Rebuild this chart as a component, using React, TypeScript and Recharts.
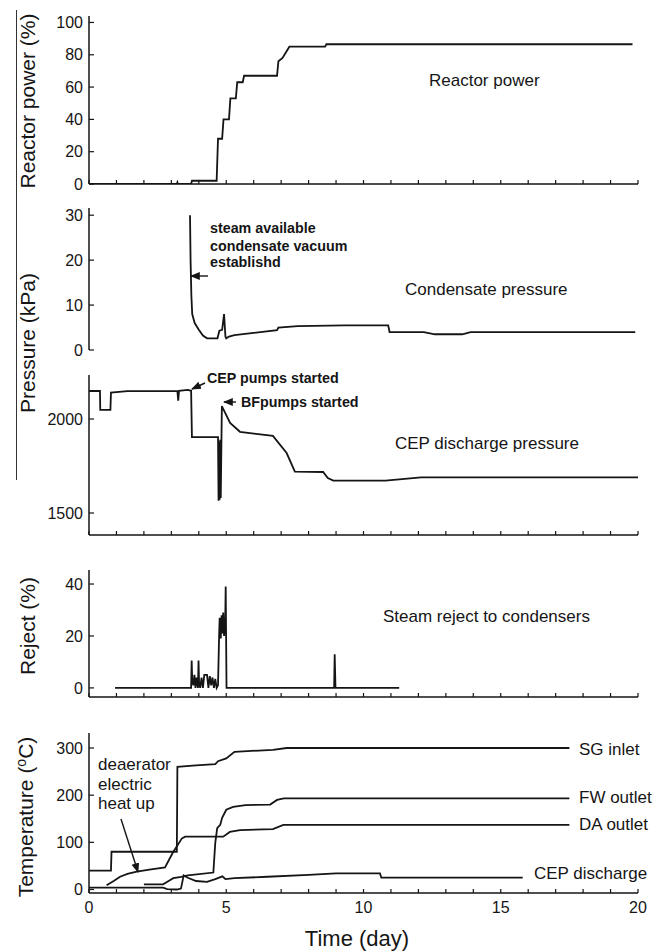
import React from "react";
import { LineChart, Line, XAxis, YAxis } from "recharts";

// [day, value] pairs
const reactorPower = [
  [0, 0], [3.2, 0], [3.22, 1], [3.24, 0], [3.72, 0], [3.75, 2], [4.65, 2], [4.7, 28],
  [4.85, 28], [4.9, 40], [5.1, 40], [5.15, 53], [5.35, 53], [5.4, 63], [5.6, 63],
  [5.65, 67], [6.85, 67], [6.9, 76], [7.05, 78], [7.3, 85], [8.6, 85], [8.65, 86.5], [19.8, 86.5],
];

const condensatePressure = [
  [3.68, 30], [3.7, 20], [3.73, 12], [3.76, 8], [3.85, 6], [4.0, 4.5], [4.15, 3.2], [4.3, 2.6],
  [4.68, 2.6], [4.75, 4.3], [4.85, 4.5], [4.92, 8], [4.97, 3], [5.0, 2.6], [5.1, 3], [5.3, 3.3],
  [6.0, 3.8], [6.85, 4.4], [6.9, 5], [7.6, 5.3], [9.3, 5.5], [10.9, 5.5], [10.95, 4], [12.2, 4],
  [12.6, 3.5], [13.6, 3.5], [13.9, 4], [19.9, 4],
];

const cepPressure = [
  [0, 2149], [0.4, 2149], [0.41, 2048], [0.78, 2048], [0.8, 2140], [1.4, 2148], [3.22, 2148],
  [3.25, 2097], [3.28, 2150], [3.6, 2155], [3.72, 2150], [3.75, 1904], [4.7, 1904], [4.72, 1565],
  [4.74, 1880], [4.76, 1570], [4.78, 1890], [4.8, 1580], [4.84, 2069], [5.14, 1979], [5.5, 1932],
  [6.7, 1910], [7.2, 1819], [7.5, 1720], [8.53, 1718], [8.7, 1686], [8.9, 1672], [10.8, 1672],
  [11.5, 1682], [12.1, 1690], [20, 1690],
];

const steamReject = [
  [0.95, 0], [3.72, 0], [3.74, 10.5], [3.76, 3], [3.8, 1], [3.84, 5], [3.88, 0], [3.92, 4],
  [3.97, 0], [3.99, 10.5], [4.01, 2], [4.05, 0], [4.1, 4], [4.15, 0], [4.2, 5], [4.3, 5],
  [4.35, 0], [4.4, 4.5], [4.45, 1], [4.5, 4], [4.55, 0], [4.6, 3.5], [4.65, 0], [4.7, 1],
  [4.74, 20], [4.76, 27], [4.8, 19], [4.83, 28], [4.86, 21], [4.89, 29], [4.92, 20], [4.96, 24],
  [4.98, 39], [5.01, 0], [8.93, 0], [8.95, 13], [8.98, 0], [11.3, 0],
];

const sgInlet = [
  [0, 40], [0.8, 40], [0.82, 80], [3.2, 80], [3.22, 260], [3.9, 263], [4.6, 266], [4.7, 272],
  [5.0, 278], [5.3, 292], [6.7, 296], [7.2, 300], [17.5, 300],
];

const fwOutlet = [
  [2.0, 11], [2.7, 11], [2.9, 18], [3.07, 24], [3.36, 27], [3.6, 30], [4.53, 36], [4.6, 99],
  [4.67, 130], [4.78, 137], [4.85, 152], [5.0, 169], [5.25, 175], [5.7, 179], [6.6, 180],
  [6.85, 190], [7.1, 193], [17.5, 193],
];

const daOutlet = [
  [0.64, 9], [0.9, 18], [1.13, 27], [1.4, 33], [1.74, 38], [2.2, 42], [2.77, 47], [3.05, 78],
  [3.38, 108], [3.5, 112], [4.89, 112], [5.13, 122], [5.5, 126], [6.7, 128], [7.08, 137], [17.5, 137],
];

const cepTemp = [
  [0, 4], [2.7, 4], [2.85, 1], [3.2, 0], [3.35, 2], [3.45, 30], [3.6, 25], [3.9, 18], [4.3, 16],
  [4.6, 22], [4.86, 28], [4.97, 22], [5.3, 24], [6.5, 27], [8, 31], [9, 34], [10.6, 34],
  [10.65, 25], [15.8, 25],
];

const dayTicks = [0, 1, 2, 3, 4, 5, 6, 7, 8, 9, 10, 11, 12, 13, 14, 15, 16, 17, 18, 19, 20];
const powerTicks = [0, 20, 40, 60, 80, 100];
const condTicks = [0, 10, 20, 30];
const cepTicks = [1500, 2000];
const rejectTicks = [0, 20, 40];
const tempTicks = [0, 100, 200, 300];

const pts = (a: number[][]) => a.map(([x, y]) => ({ x, y }));

const INK = "#151515";
const FONT = "'Liberation Sans', Arial, sans-serif";

function series(d: number[][], key: string) {
  return (
    <Line
      key={key}
      data={pts(d)}
      dataKey="y"
      type="linear"
      dot={false}
      activeDot={false}
      stroke={INK}
      strokeWidth={1.8}
      isAnimationActive={false}
    />
  );
}

interface PanelProps {
  top: number;
  plotH: number;
  domain: [number, number];
  yTicks: number[];
  xMode: "none" | "ticks" | "labels";
  children: React.ReactNode;
}

function Panel({ top, plotH, domain, yTicks, xMode, children }: PanelProps) {
  const mt = 10;
  const xH = xMode === "labels" ? 50 : xMode === "ticks" ? 1 : 0;
  const mb = xMode === "labels" ? 2 : 10;
  const h = mt + plotH + xH + mb;
  const axisStyle = { stroke: INK, strokeWidth: 1.5 };
  return (
    <div style={{ position: "absolute", left: 0, top: top - mt }}>
      <LineChart width={664} height={h} margin={{ top: mt, right: 26, bottom: mb, left: 0 }}>
        <XAxis
          type="number"
          dataKey="x"
          domain={[0, 20]}
          ticks={dayTicks}
          allowDataOverflow
          hide={xMode === "none"}
          height={xH}
          axisLine={axisStyle}
          tickLine={{ stroke: INK, strokeWidth: 1.2 }}
          tickSize={-4}
          tickMargin={13}
          interval={0}
          tick={{ fontSize: 16, fill: INK, fontFamily: FONT }}
          tickFormatter={(v: number) => (xMode === "labels" && v % 5 === 0 ? String(v) : "")}
        />
        <YAxis
          type="number"
          domain={domain}
          ticks={yTicks}
          allowDataOverflow
          width={89}
          axisLine={axisStyle}
          tickLine={{ stroke: INK, strokeWidth: 1.2 }}
          tickSize={-5}
          tickMargin={11}
          interval={0}
          tick={{ fontSize: 16, fill: INK, fontFamily: FONT }}
        />
        {children}
      </LineChart>
    </div>
  );
}

export default function App() {
  const t = { fontFamily: FONT, fill: INK };
  return (
    <div
      style={{
        position: "absolute",
        left: 0,
        top: 0,
        width: 664,
        height: 951,
        background: "#fff",
        fontFamily: FONT,
        overflow: "hidden",
      }}
    >
      <Panel top={16} plotH={168} domain={[0, 104]} yTicks={powerTicks} xMode="ticks">
        {series(reactorPower, "power")}
      </Panel>
      <Panel top={208} plotH={142} domain={[0, 31.6]} yTicks={condTicks} xMode="none">
        {series(condensatePressure, "cond")}
      </Panel>
      <Panel top={375} plotH={160} domain={[1383, 2234]} yTicks={cepTicks} xMode="ticks">
        {series(cepPressure, "cep")}
      </Panel>
      <Panel top={570} plotH={127} domain={[-3.5, 45.4]} yTicks={rejectTicks} xMode="ticks">
        {series(steamReject, "reject")}
      </Panel>
      <Panel top={733} plotH={160} domain={[-7.4, 331.8]} yTicks={tempTicks} xMode="labels">
        {series(sgInlet, "sg")}
        {series(fwOutlet, "fw")}
        {series(daOutlet, "da")}
        {series(cepTemp, "ceptemp")}
      </Panel>

      <svg
        width={664}
        height={951}
        style={{ position: "absolute", left: 0, top: 0, pointerEvents: "none" }}
      >
        <defs>
          <marker id="ah" viewBox="0 0 10 10" refX="9" refY="5" markerWidth="7" markerHeight="7" orient="auto">
            <path d="M0,1 L10,5 L0,9 z" fill={INK} />
          </marker>
        </defs>

        <line x1={16.5} y1={10} x2={16.5} y2={480} stroke="#333" strokeWidth={1} />

        {/* axis titles */}
        <text {...t} fontSize={21} textAnchor="middle" transform="translate(35,101) rotate(-90)">
          Reactor power (%)
        </text>
        <text {...t} fontSize={21} textAnchor="middle" transform="translate(35,343) rotate(-90)">
          Pressure (kPa)
        </text>
        <text {...t} fontSize={21} textAnchor="middle" transform="translate(35,626) rotate(-90)">
          Reject (%)
        </text>
        <text {...t} fontSize={21} textAnchor="middle" transform="translate(33,817) rotate(-90)">
          Temperature (<tspan fontSize={14} dy={-7}>o</tspan>
          <tspan dy={7}>C)</tspan>
        </text>
        <text {...t} fontSize={22} textAnchor="middle" x={357} y={946}>
          Time (day)
        </text>

        {/* panel titles */}
        <text {...t} fontSize={17} x={429} y={86}>Reactor power</text>
        <text {...t} fontSize={17} x={405} y={295}>Condensate pressure</text>
        <text {...t} fontSize={17} x={395} y={449}>CEP discharge pressure</text>
        <text {...t} fontSize={17} x={383} y={622}>Steam reject to condensers</text>

        {/* annotations */}
        <text {...t} fontSize={14.3} fontWeight="bold" x={210} y={233}>steam available</text>
        <text {...t} fontSize={14.3} fontWeight="bold" x={210} y={251}>condensate vacuum</text>
        <text {...t} fontSize={14.3} fontWeight="bold" x={210} y={267}>establishd</text>
        <line x1={208} y1={276} x2={191} y2={276} stroke={INK} strokeWidth={1.4} markerEnd="url(#ah)" />

        <text {...t} fontSize={14.3} fontWeight="bold" x={207} y={383}>CEP pumps started</text>
        <line x1={205} y1={383} x2={192} y2={389} stroke={INK} strokeWidth={1.4} markerEnd="url(#ah)" />
        <text {...t} fontSize={14.3} fontWeight="bold" x={241} y={407}>BFpumps started</text>
        <line x1={236} y1={402} x2={224} y2={402} stroke={INK} strokeWidth={1.4} markerEnd="url(#ah)" />

        <text {...t} fontSize={17} x={98} y={770}>deaerator</text>
        <text {...t} fontSize={17} x={98} y={790}>electric</text>
        <text {...t} fontSize={17} x={98} y={809}>heat up</text>
        <line x1={121} y1={819} x2={138} y2={872} stroke={INK} strokeWidth={1.4} markerEnd="url(#ah)" />

        <text {...t} fontSize={17} x={579} y={755}>SG inlet</text>
        <text {...t} fontSize={17} x={579} y={803}>FW outlet</text>
        <text {...t} fontSize={17} x={579} y={830}>DA outlet</text>
        <text {...t} fontSize={17} x={534} y={879}>CEP discharge</text>
      </svg>
    </div>
  );
}
